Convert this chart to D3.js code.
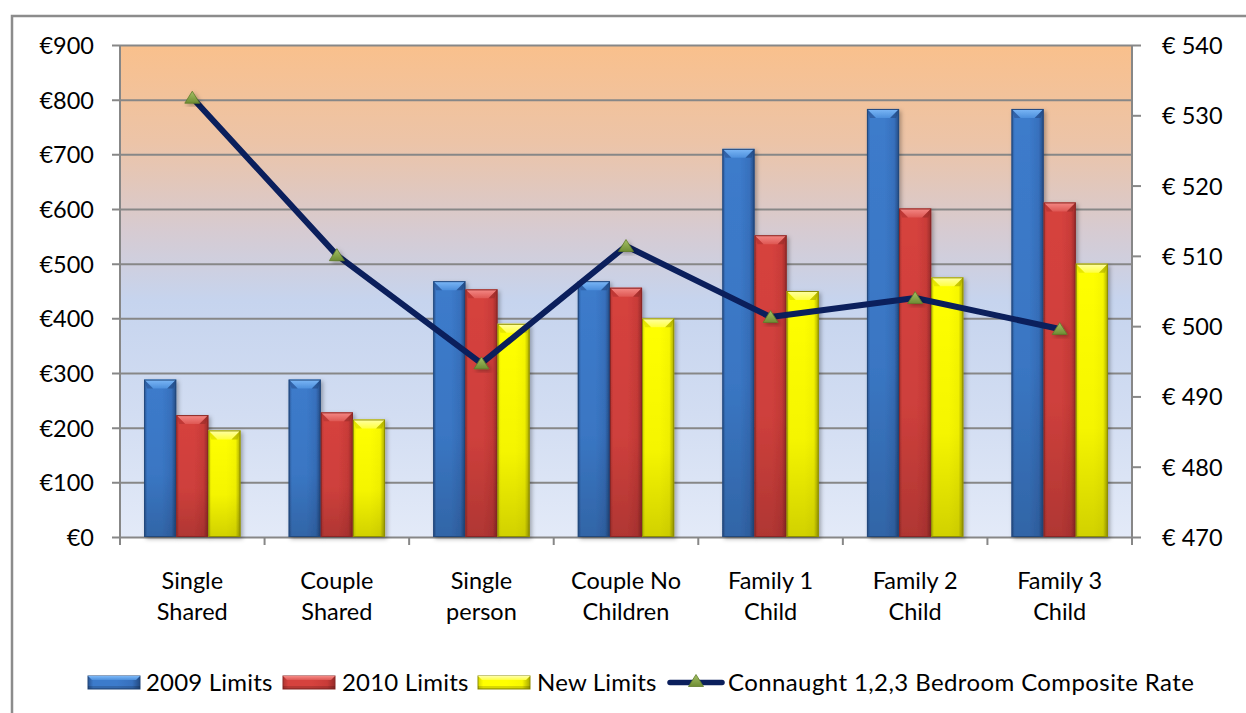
<!DOCTYPE html>
<html><head><meta charset="utf-8">
<script src="https://cdn.jsdelivr.net/npm/d3@7"></script>
<style>
body{margin:0;background:#fff;}
text{font-family:Lato,"Open Sans",sans-serif;fill:#000;}
</style>
</head><body>
<svg id="c" width="1246" height="713"></svg>
<script>
// ---- data ----
const categories = ["Single Shared","Couple Shared","Single person","Couple No Children","Family 1 Child","Family 2 Child","Family 3 Child"];
const seriesNames = ["2009 Limits","2010 Limits","New Limits"];
const limits2009 = [288,288,468,468,710,783,783];
const limits2010 = [223,228,453,456,552,601,612];
const newLimits  = [195,215,390,400,450,475,500];
const lineName = "Connaught 1,2,3 Bedroom Composite Rate";
const connaught  = [532.5,510.1,494.7,511.4,501.3,504.0,499.6];
const leftTicks  = [0,100,200,300,400,500,600,700,800,900];
const rightTicks = [470,480,490,500,510,520,530,540];

const barSeries = [limits2009, limits2010, newLimits];

// ---- layout ----
const L=120, R=1132, T=45, B=537;
const svg=d3.select("#c");
const defs=svg.append("defs");

// outer frame
svg.append("rect").attr("x",12).attr("y",16).attr("width",1300).attr("height",800)
  .attr("fill","#fff").attr("stroke","#8c8c8c").attr("stroke-width",2.5);

// plot background gradient
const bg=defs.append("linearGradient").attr("id","bg").attr("x1",0).attr("y1",0).attr("x2",0).attr("y2",1);
[[0,"#f9c08c"],[0.2,"#ecc4a8"],[0.38,"#d6cbd2"],[0.52,"#c6d4ee"],[0.75,"#d2ddf2"],[1,"#e3eaf8"]]
  .forEach(s=>bg.append("stop").attr("offset",s[0]).attr("stop-color",s[1]));
svg.append("rect").attr("x",L).attr("y",T).attr("width",R-L).attr("height",B-T).attr("fill","url(#bg)");

const yL=d3.scaleLinear().domain([0,900]).range([B,T]);
const yR=d3.scaleLinear().domain([470,540]).range([B,T]);
const x0=d3.scaleBand().domain(categories).range([L,R]).padding(0);
const x1=d3.scaleBand().domain(seriesNames).range([0,x0.bandwidth()]).paddingInner(0).paddingOuter(0.75);

const gridCol="#878787";
// gridlines + left axis
const gAxL=svg.append("g").attr("transform",`translate(${L},0)`)
  .call(d3.axisLeft(yL).tickValues(leftTicks).tickSize(8).tickPadding(18).tickFormat(d=>"€"+d));
gAxL.select(".domain").remove();
gAxL.selectAll("line").attr("stroke",gridCol).attr("stroke-width",2).attr("x2",R-L).attr("x1",-8);
gAxL.selectAll("text").attr("font-size",23.5).attr("dy","0.36em").attr("x",-26);
svg.append("line").attr("x1",L).attr("x2",L).attr("y1",T).attr("y2",B+8).attr("stroke",gridCol).attr("stroke-width",2);

// right axis
const gAxR=svg.append("g").attr("transform",`translate(${R},0)`)
  .call(d3.axisRight(yR).tickValues(rightTicks).tickSize(9).tickPadding(20).tickFormat(d=>"€ "+d));
gAxR.select(".domain").remove();
gAxR.selectAll("line").attr("stroke",gridCol).attr("stroke-width",2);
gAxR.selectAll("text").attr("font-size",23.5).attr("dy","0.36em").attr("x",30);
svg.append("line").attr("x1",R).attr("x2",R).attr("y1",T).attr("y2",B+8).attr("stroke",gridCol).attr("stroke-width",2);

// x axis ticks at band boundaries
const bounds=categories.map(c=>x0(c)).concat([R]);
svg.append("g").selectAll("line").data(bounds).join("line")
  .attr("x1",d=>d).attr("x2",d=>d).attr("y1",B).attr("y2",B+8).attr("stroke",gridCol).attr("stroke-width",2);

// category labels
const catG=svg.append("g");
categories.forEach(c=>{
  const words=c.split(" ");
  const l2=words.pop(), l1=words.join(" ");
  const t=catG.append("text").attr("text-anchor","middle").attr("font-size",23.5);
  t.append("tspan").attr("x",x0(c)+x0.bandwidth()/2).attr("y",589).text(l1);
  t.append("tspan").attr("x",x0(c)+x0.bandwidth()/2).attr("y",620).text(l2);
});

// bar styles
const styles=[
  {id:"b",edge:"#2a5594",mid:"#3c7bcb",mid2:"#3770bd",dark:"#234a82",top1:"#7cb8f7",top2:"#4d8fdc",out:"#23487c"},
  {id:"r",edge:"#b13431",mid:"#d6423e",mid2:"#c93b38",dark:"#962b29",top1:"#f58a86",top2:"#de5753",out:"#8a2826"},
  {id:"y",edge:"#d7d700",mid:"#ffff00",mid2:"#f7f700",dark:"#a8a800",top1:"#ffffa8",top2:"#ffff40",out:"#8f8f00"}
];
styles.forEach(s=>{
  const g=defs.append("linearGradient").attr("id","h"+s.id);
  [[0,s.edge],[0.1,s.mid],[0.55,s.mid],[0.85,s.mid2],[1,s.dark]].forEach(p=>g.append("stop").attr("offset",p[0]).attr("stop-color",p[1]));
  const t=defs.append("linearGradient").attr("id","t"+s.id).attr("x1",0).attr("y1",0).attr("x2",0).attr("y2",1);
  [[0,s.top1],[1,s.top2]].forEach(p=>t.append("stop").attr("offset",p[0]).attr("stop-color",p[1]));
});
const vg=defs.append("linearGradient").attr("id","vshade").attr("x1",0).attr("y1",0).attr("x2",0).attr("y2",1);
vg.append("stop").attr("offset",0).attr("stop-color","#000").attr("stop-opacity",0);
vg.append("stop").attr("offset",0.6).attr("stop-color","#000").attr("stop-opacity",0.04);
vg.append("stop").attr("offset",1).attr("stop-color","#000").attr("stop-opacity",0.18);
const sh=defs.append("filter").attr("id","sh").attr("x","-20%").attr("y","-20%").attr("width","150%").attr("height","150%");
sh.append("feDropShadow").attr("dx",2).attr("dy",2).attr("stdDeviation",2).attr("flood-color","#000").attr("flood-opacity",0.3);

function bevelBar(g,x,y,w,h,s){
  const b=Math.min(9,h/2), side=3;
  const gg=g.append("g").attr("filter","url(#sh)");
  gg.append("rect").attr("x",x).attr("y",y).attr("width",w).attr("height",h).attr("fill",`url(#h${s.id})`);
  gg.append("rect").attr("x",x).attr("y",y).attr("width",w).attr("height",h).attr("fill","url(#vshade)");
  gg.append("path").attr("d",`M${x},${y}L${x+w},${y}L${x+w-b},${y+b}L${x+b},${y+b}Z`).attr("fill",`url(#t${s.id})`);
  gg.append("path").attr("d",`M${x},${y}L${x+b},${y+b}L${x+side},${y+b}L${x},${y}Z`).attr("fill",s.edge).attr("opacity",0.6);
  gg.append("path").attr("d",`M${x+w},${y}L${x+w-b},${y+b}L${x+w-side},${y+b}Z`).attr("fill",s.dark).attr("opacity",0.6);
  gg.append("rect").attr("x",x+0.5).attr("y",y+0.5).attr("width",w-1).attr("height",h-1).attr("fill","none").attr("stroke",s.out).attr("stroke-width",1);
}

const barsG=svg.append("g");
categories.forEach((c,i)=>{
  seriesNames.forEach((sn,j)=>{
    const v=barSeries[j][i];
    bevelBar(barsG, x0(c)+x1(sn), yL(v), x1.bandwidth(), yL(0)-yL(v), styles[j]);
  });
});

// line series
const lineCol="#0b1f5c";
const line=d3.line().x((d,i)=>x0(categories[i])+x0.bandwidth()/2).y(d=>yR(d));
svg.append("path").datum(connaught).attr("d",line).attr("fill","none")
  .attr("stroke",lineCol).attr("stroke-width",6).attr("stroke-linejoin","round");

const tg=defs.append("linearGradient").attr("id","tri").attr("x1",0).attr("y1",0).attr("x2",0).attr("y2",1);
tg.append("stop").attr("offset",0).attr("stop-color","#a5c266");
tg.append("stop").attr("offset",1).attr("stop-color","#6e8c33");
const triPath="M0,-6.5L7.5,5.5L-7.5,5.5Z";
svg.append("g").selectAll("path").data(connaught).join("path")
  .attr("d",triPath).attr("transform",(d,i)=>`translate(${x0(categories[i])+x0.bandwidth()/2},${yR(d)})`)
  .attr("fill","url(#tri)").attr("stroke","#5f7b2a").attr("stroke-width",0.8).attr("filter","url(#sh)");

// legend
const lg=svg.append("g");
const legY=676, legH=13, legBase=691, legFont=24;
const legItems=[{x:88,tx:146,s:0},{x:283,tx:342,s:1},{x:478,tx:537,s:2}];
function bevelBarLegend(g,x,y,w,h,s){
  g.append("rect").attr("x",x).attr("y",y).attr("width",w).attr("height",h).attr("fill",`url(#h${s.id})`).attr("stroke",s.out).attr("stroke-width",1);
  const b=4;
  g.append("path").attr("d",`M${x},${y}L${x+w},${y}L${x+w-b},${y+b}L${x+b},${y+b}Z`).attr("fill",`url(#t${s.id})`);
  g.append("rect").attr("x",x).attr("y",y+h-3).attr("width",w).attr("height",3).attr("fill","#000").attr("opacity",0.15);
}
legItems.forEach(it=>{
  bevelBarLegend(lg,it.x,legY,52,legH,styles[it.s]);
  lg.append("text").attr("x",it.tx).attr("y",legBase).attr("font-size",legFont).attr("letter-spacing",0.2).text(seriesNames[it.s]);
});
lg.append("line").attr("x1",670).attr("x2",722).attr("y1",legY+6.5).attr("y2",legY+6.5)
  .attr("stroke",lineCol).attr("stroke-width",5.5).attr("stroke-linecap","round");
lg.append("path").attr("d",triPath).attr("transform",`translate(696,${legY+5})`).attr("fill","url(#tri)").attr("stroke","#5f7b2a").attr("stroke-width",0.8);
lg.append("text").attr("x",728).attr("y",legBase).attr("font-size",legFont).attr("letter-spacing",0.4).text(lineName);
</script>
</body></html>
